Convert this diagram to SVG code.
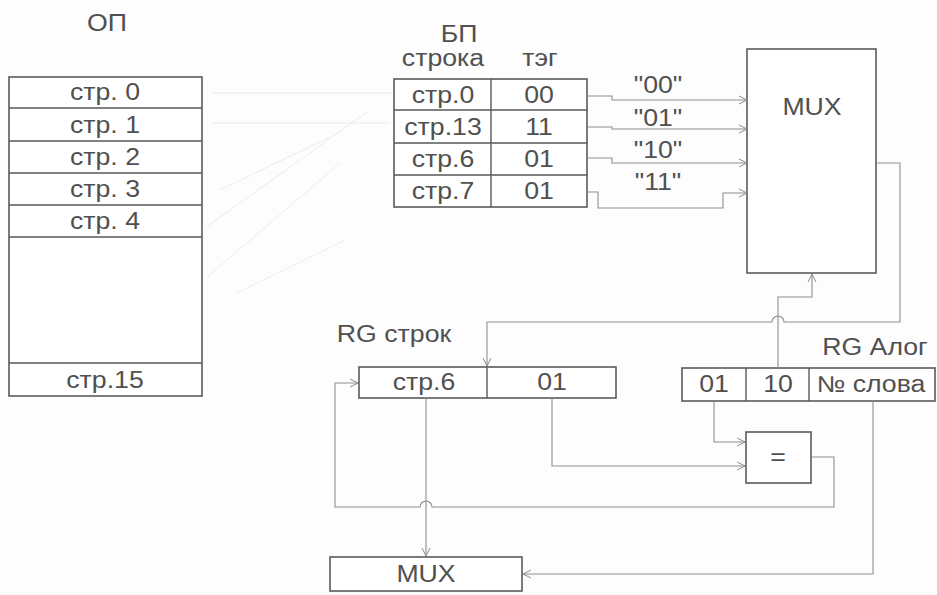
<svg xmlns="http://www.w3.org/2000/svg" width="937" height="595" viewBox="0 0 937 595">
<defs>
<marker id="arr" markerWidth="10" markerHeight="10" refX="9" refY="5" orient="auto" markerUnits="userSpaceOnUse">
<path d="M1,1 L9,5 L1,9" fill="none" stroke="#8a8a8a" stroke-width="1"/>
</marker>
<style>
.box{fill:#fff;stroke:#5a5a5a;stroke-width:1.6}
.ln{fill:none;stroke:#5a5a5a;stroke-width:1.4}
.t{font-family:"Liberation Sans",Arial,sans-serif;font-size:23px;fill:#505050;text-anchor:middle}
.c{fill:none;stroke:#8f8f8f;stroke-width:1.1}
.faint{fill:none;stroke:#ebebeb;stroke-width:1}
</style>
</defs>
<rect width="937" height="595" fill="#fdfdfd"/>

<g id="faint-lines">
<path class="faint" d="M212,93 L392,93"/>
<path class="faint" d="M212,123 L390,123"/>
<path class="faint" d="M205,228 L367,112"/>
<path class="faint" d="M220,190 L330,137"/>
<path class="faint" d="M207,277 L340,163"/>
<path class="faint" d="M237,293 L345,240"/>
</g>

<g id="op">
<text class="t" x="0" y="31" transform="translate(107,0) scale(1.16,1)">ОП</text>
<rect class="box" x="9" y="77" width="193" height="319"/>
<path class="ln" d="M9,108 H202 M9,141 H202 M9,173 H202 M9,205 H202 M9,237 H202 M9,363 H202"/>
<text class="t" x="0" y="100" transform="translate(105,0) scale(1.16,1)">стр. 0</text>
<text class="t" x="0" y="133" transform="translate(105,0) scale(1.16,1)">стр. 1</text>
<text class="t" x="0" y="165" transform="translate(105,0) scale(1.16,1)">стр. 2</text>
<text class="t" x="0" y="197" transform="translate(105,0) scale(1.16,1)">стр. 3</text>
<text class="t" x="0" y="229" transform="translate(105,0) scale(1.16,1)">стр. 4</text>
<text class="t" x="0" y="388" transform="translate(105,0) scale(1.16,1)">стр.15</text>
</g>

<g id="bp">
<text class="t" x="0" y="42" transform="translate(459,0) scale(1.16,1)">БП</text>
<text class="t" x="0" y="66" transform="translate(443,0) scale(1.16,1)">строка</text>
<text class="t" x="0" y="66" transform="translate(540,0) scale(1.16,1)">тэг</text>
<rect class="box" x="394" y="79" width="193" height="128"/>
<path class="ln" d="M394,110 H587 M394,143 H587 M394,175 H587 M491,79 V207"/>
<text class="t" x="0" y="103" transform="translate(443,0) scale(1.16,1)">стр.0</text>
<text class="t" x="0" y="103" transform="translate(539,0) scale(1.16,1)">00</text>
<text class="t" x="0" y="135" transform="translate(443,0) scale(1.16,1)">стр.13</text>
<text class="t" x="0" y="135" transform="translate(539,0) scale(1.16,1)">11</text>
<text class="t" x="0" y="167" transform="translate(443,0) scale(1.16,1)">стр.6</text>
<text class="t" x="0" y="167" transform="translate(539,0) scale(1.16,1)">01</text>
<text class="t" x="0" y="199" transform="translate(443,0) scale(1.16,1)">стр.7</text>
<text class="t" x="0" y="199" transform="translate(539,0) scale(1.16,1)">01</text>
</g>

<g id="mux-top">
<rect class="box" x="747" y="49" width="129" height="224"/>
<text class="t" x="0" y="115" transform="translate(812,0) scale(1.16,1)">MUX</text>
</g>

<g id="rg-str">
<text class="t" x="0" y="342" transform="translate(394,0) scale(1.16,1)">RG строк</text>
<rect class="box" x="359" y="367" width="257" height="31"/>
<path class="ln" d="M487,367 V398"/>
<text class="t" x="0" y="390" transform="translate(424,0) scale(1.16,1)">стр.6</text>
<text class="t" x="0" y="390" transform="translate(552,0) scale(1.16,1)">01</text>
</g>

<g id="rg-alog">
<text class="t" x="0" y="355" transform="translate(875,0) scale(1.16,1)">RG Алог</text>
<rect class="box" x="682" y="368" width="253" height="33"/>
<path class="ln" d="M746,368 V401 M809,368 V401"/>
<text class="t" x="0" y="392" transform="translate(714,0) scale(1.16,1)">01</text>
<text class="t" x="0" y="392" transform="translate(778,0) scale(1.16,1)">10</text>
<text class="t" x="0" y="392" transform="translate(871,0) scale(1.16,1)">№ слова</text>
</g>

<g id="cmp">
<rect class="box" x="746" y="432" width="65" height="51"/>
<text class="t" x="0" y="465" transform="translate(778,0) scale(1.16,1)">=</text>
</g>

<g id="mux-bottom">
<rect class="box" x="330" y="557" width="192" height="34"/>
<text class="t" x="0" y="582" transform="translate(426,0) scale(1.16,1)">MUX</text>
</g>

<g id="labels">
<text class="t" x="0" y="93" transform="translate(658,0) scale(1.16,1)">"00"</text>
<text class="t" x="0" y="126" transform="translate(658,0) scale(1.16,1)">"01"</text>
<text class="t" x="0" y="158" transform="translate(658,0) scale(1.16,1)">"10"</text>
<text class="t" x="0" y="190" transform="translate(658,0) scale(1.16,1)">"11"</text>
</g>

<g id="connectors">
<path class="c" marker-end="url(#arr)" d="M587,96 H612 V100 H747"/>
<path class="c" marker-end="url(#arr)" d="M587,127 H612 V129 H747"/>
<path class="c" marker-end="url(#arr)" d="M587,158 H612 V163 H747"/>
<path class="c" marker-end="url(#arr)" d="M587,192 H598 V208 H723 V193 H747"/>
<path class="c" marker-end="url(#arr)" d="M876,163 H900 V322 H784 A6,6 0 0 0 772,322 H487 V366"/>
<path class="c" marker-end="url(#arr)" d="M778,368 V297 H812 V274"/>
<path class="c" marker-end="url(#arr)" d="M714,401 V442 H745"/>
<path class="c" marker-end="url(#arr)" d="M552,398 V466 H745"/>
<path class="c" marker-end="url(#arr)" d="M811,457 H834 V507 H432 A6,6 0 0 0 420,507 H335 V383 H358"/>
<path class="c" marker-end="url(#arr)" d="M426,398 V556"/>
<path class="c" marker-end="url(#arr)" d="M873,401 V574 H523"/>
</g>
</svg>
